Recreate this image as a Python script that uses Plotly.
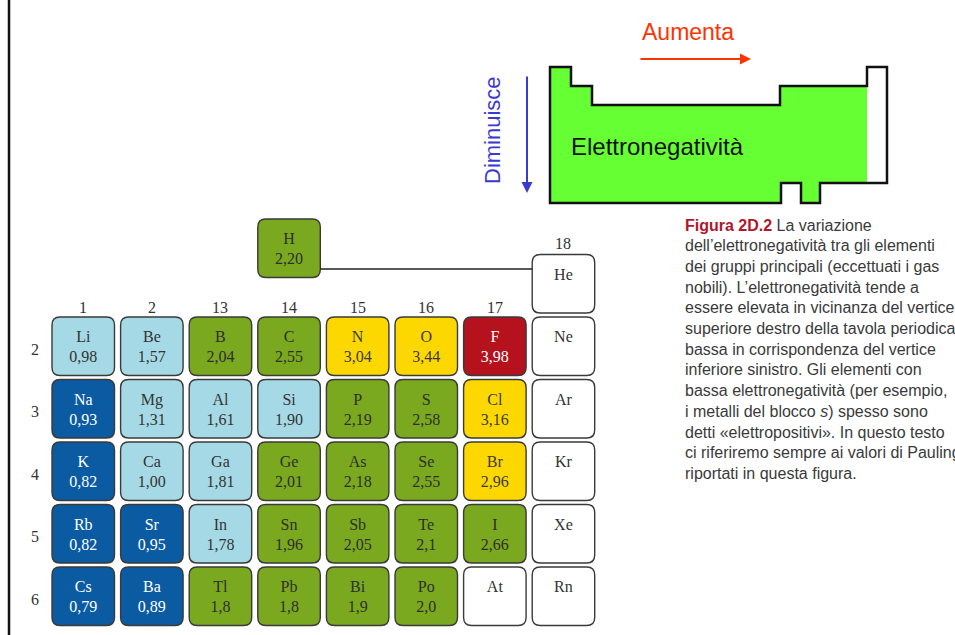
import plotly.graph_objects as go

# ---------------- data ----------------
groups = ["1", "2", "13", "14", "15", "16", "17", "18"]
periods = ["2", "3", "4", "5", "6"]
symbols = [
    ["Li", "Be", "B", "C", "N", "O", "F", "Ne"],
    ["Na", "Mg", "Al", "Si", "P", "S", "Cl", "Ar"],
    ["K", "Ca", "Ga", "Ge", "As", "Se", "Br", "Kr"],
    ["Rb", "Sr", "In", "Sn", "Sb", "Te", "I", "Xe"],
    ["Cs", "Ba", "Tl", "Pb", "Bi", "Po", "At", "Rn"],
]
values = [
    ["0,98", "1,57", "2,04", "2,55", "3,04", "3,44", "3,98", ""],
    ["0,93", "1,31", "1,61", "1,90", "2,19", "2,58", "3,16", ""],
    ["0,82", "1,00", "1,81", "2,01", "2,18", "2,55", "2,96", ""],
    ["0,82", "0,95", "1,78", "1,96", "2,05", "2,1", "2,66", ""],
    ["0,79", "0,89", "1,8", "1,8", "1,9", "2,0", "", ""],
]
# colour classes: D dark blue, L light blue, G green, Y yellow, R red, W white
classes = [
    "LLGGYYRW",
    "DLLLGGYW",
    "DLLGGGYW",
    "DDLGGGGW",
    "DDGGGGWW",
]
hydrogen = {"symbol": "H", "value": "2,20", "cls": "G"}
helium = {"symbol": "He", "value": "", "cls": "W"}

caption_lines = [
    "<span style='color:#b3152a'><b>Figura 2D.2</b></span> La variazione",
    "dell’elettronegatività tra gli elementi",
    "dei gruppi principali (eccettuati i gas",
    "nobili). L’elettronegatività tende a",
    "essere elevata in vicinanza del vertice",
    "superiore destro della tavola periodica,",
    "bassa in corrispondenza del vertice",
    "inferiore sinistro. Gli elementi con",
    "bassa elettronegatività (per esempio,",
    "i metalli del blocco <i>s</i>) spesso sono",
    "detti «elettropositivi». In questo testo",
    "ci riferiremo sempre ai valori di Pauling",
    "riportati in questa figura.",
]

# ---------------- styles ----------------
FILL = {"D": "#0b5ba3", "L": "#a6d9e6", "G": "#7aa81f", "Y": "#fdd800",
        "R": "#b5121e", "W": "#ffffff"}
TXT = {"D": "#ffffff", "L": "#333333", "G": "#2e2e2e", "Y": "#3a3a3a",
       "R": "#ffffff", "W": "#333333"}
SERIF = "Liberation Serif, DejaVu Serif, serif"
SANS = "Liberation Sans, Arial, sans-serif"

X0, PITCH_X, CW = 52.0, 68.6, 62.5
Y0, PITCH_Y, CH = 317.0, 62.5, 58.5
H_TOP = 219.0


def col_x(i):
    return X0 + i * PITCH_X


def row_y(p):
    return Y0 + p * PITCH_Y


def rrect(x0, y0, x1, y1, r=8):
    return (f"M{x0+r},{y0} L{x1-r},{y0} Q{x1},{y0} {x1},{y0+r} "
            f"L{x1},{y1-r} Q{x1},{y1} {x1-r},{y1} L{x0+r},{y1} "
            f"Q{x0},{y1} {x0},{y1-r} L{x0},{y0+r} Q{x0},{y0} {x0+r},{y0} Z")


shapes = []
sx, sy, st, sc = [], [], [], []
vx, vy, vt, vc = [], [], [], []


def add_cell(x0, y0, sym, val, cls):
    shapes.append(dict(type="path", xref="x", yref="y",
                       path=rrect(x0, y0, x0 + CW, y0 + CH),
                       fillcolor=FILL[cls], line=dict(color="#3a3a3a", width=1.4),
                       layer="below"))
    sx.append(x0 + CW / 2); sy.append(y0 + 21); st.append(sym); sc.append(TXT[cls])
    if val:
        vx.append(x0 + CW / 2); vy.append(y0 + 41); vt.append(val); vc.append(TXT[cls])


for p in range(len(periods)):
    for i in range(len(groups)):
        add_cell(col_x(i), row_y(p), symbols[p][i], values[p][i], classes[p][i])

# H and He
add_cell(col_x(3), H_TOP, hydrogen["symbol"], hydrogen["value"], hydrogen["cls"])
add_cell(col_x(7), row_y(-1), helium["symbol"], helium["value"], helium["cls"])
shapes.append(dict(type="line", xref="x", yref="y", x0=col_x(3) + CW, x1=col_x(7),
                   y0=H_TOP + 50, y1=H_TOP + 50, line=dict(color="#222", width=1.6)))

# left border line
shapes.append(dict(type="line", xref="x", yref="y", x0=9, x1=9, y0=0, y1=635,
                   line=dict(color="#111", width=2.5)))

# top schematic periodic table
outline = ("M550,67 L571,67 L571,86 L592,86 L592,105 L780,105 L780,86 L867,86 "
           "L867,67 L887,67 L887,183 L820,183 L820,203 L801,203 L801,183 "
           "L781,183 L781,203 L550,203 Z")
shapes.append(dict(type="path", xref="x", yref="y", path=outline,
                   fillcolor="#66ff33", line=dict(width=0)))
shapes.append(dict(type="rect", xref="x", yref="y", x0=867, x1=887, y0=67, y1=183,
                   fillcolor="#ffffff", line=dict(width=0)))
shapes.append(dict(type="path", xref="x", yref="y", path=outline,
                   fillcolor="rgba(0,0,0,0)", line=dict(color="#111", width=2.5)))

fig = go.Figure()
fig.add_trace(go.Scatter(x=sx, y=sy, text=st, mode="text", hoverinfo="skip",
                         textfont=dict(family=SERIF, size=16, color=sc), cliponaxis=False))
fig.add_trace(go.Scatter(x=vx, y=vy, text=vt, mode="text", hoverinfo="skip",
                         textfont=dict(family=SERIF, size=16, color=vc), cliponaxis=False))

ann = []
# group labels
for i, g in enumerate(groups[:-1]):
    ann.append(dict(x=col_x(i) + CW / 2, y=Y0 - 10, text=g, showarrow=False,
                    font=dict(family=SERIF, size=16, color="#333")))
ann.append(dict(x=col_x(7) + CW / 2, y=row_y(-1) - 11, text=groups[-1], showarrow=False,
                font=dict(family=SERIF, size=16, color="#333")))
# period labels
for p, lab in enumerate(periods):
    ann.append(dict(x=35, y=row_y(p) + CH / 2 + 3, text=lab, showarrow=False,
                    font=dict(family=SERIF, size=16, color="#333")))

# schematic texts & arrows
ann.append(dict(x=688, y=32, text="Aumenta", showarrow=False,
                font=dict(family=SANS, size=23, color="#ff3300")))
ann.append(dict(x=751, y=59, ax=639, ay=59, axref="x", ayref="y", text="",
                showarrow=True, arrowhead=2, arrowsize=1.1, arrowwidth=2,
                arrowcolor="#ff3300"))
ann.append(dict(x=492, y=130, text="Diminuisce", textangle=-90, showarrow=False,
                font=dict(family=SANS, size=22, color="#3a3ad0")))
ann.append(dict(x=527, y=193, ax=527, ay=75, axref="x", ayref="y", text="",
                showarrow=True, arrowhead=2, arrowsize=1.1, arrowwidth=2,
                arrowcolor="#3a3ad0"))
ann.append(dict(x=569, y=146, text="Elettronegatività", showarrow=False,
                xanchor="left", font=dict(family=SANS, size=24, color="#111")))

# cut-off blue heading glyph at top (only its descender is visible)
ann.append(dict(x=199, y=2, text="<b>g</b>", showarrow=False, yanchor="bottom",
                font=dict(family=SANS, size=40, color="#0000ff")))

# caption
for k, line in enumerate(caption_lines):
    ann.append(dict(x=683, y=225 + k * 20.7, text=line, showarrow=False,
                    xanchor="left", font=dict(family=SANS, size=16, color="#3a3a3a")))

fig.update_layout(
    width=955, height=635, margin=dict(l=0, r=0, t=0, b=0),
    paper_bgcolor="white", plot_bgcolor="white", showlegend=False,
    xaxis=dict(range=[0, 955], visible=False, fixedrange=True),
    yaxis=dict(range=[635, 0], visible=False, fixedrange=True),
    shapes=shapes, annotations=ann,
)
fig.write_html("out.html", config={"displayModeBar": False},
               post_script="document.body.style.margin='0';")
